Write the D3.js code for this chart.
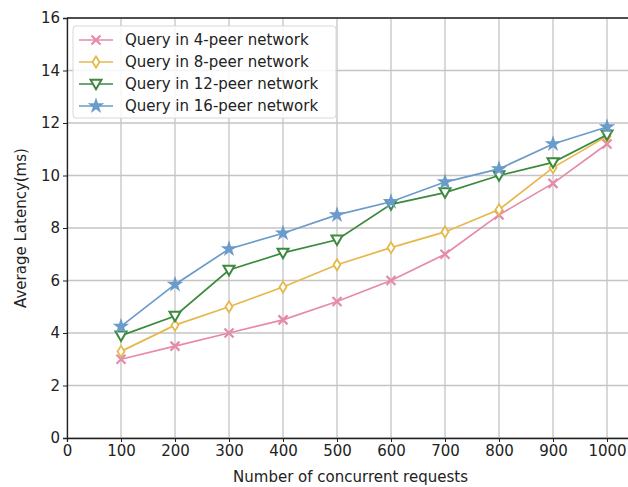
<!DOCTYPE html>
<html>
  <head>
    <meta charset="UTF-8" />
    <style>
      body { margin: 0; background: #fff; }
      svg text { font-family: "DejaVu Sans", sans-serif; fill: #222; }
    </style>
  </head>
  <body>
    <svg></svg>
    <script src="https://d3js.org/d3.v7.min.js"></script>
    <script>
      let width = 628,
        height = 487;

      // data
      const requests = [100, 200, 300, 400, 500, 600, 700, 800, 900, 1000];
      const peer4 = [3.0, 3.5, 4.0, 4.5, 5.2, 6.0, 7.0, 8.5, 9.7, 11.2];
      const peer8 = [3.3, 4.3, 5.0, 5.75, 6.6, 7.25, 7.85, 8.7, 10.3, 11.5];
      const peer12 = [3.9, 4.65, 6.4, 7.05, 7.55, 8.9, 9.35, 10.0, 10.5, 11.55];
      const peer16 = [4.25, 5.85, 7.2, 7.8, 8.5, 9.0, 9.75, 10.25, 11.2, 11.85];
      const seriesNames = [
        "Query in 4-peer network",
        "Query in 8-peer network",
        "Query in 12-peer network",
        "Query in 16-peer network",
      ];
      const xTicks = [0, 100, 200, 300, 400, 500, 600, 700, 800, 900, 1000];
      const yTicks = [0, 2, 4, 6, 8, 10, 12, 14, 16];

      const series = [
        { name: seriesNames[0], values: peer4, color: "#e68aa9", marker: "x" },
        { name: seriesNames[1], values: peer8, color: "#e6b84a", marker: "diamond" },
        { name: seriesNames[2], values: peer12, color: "#3b8a3e", marker: "tri" },
        { name: seriesNames[3], values: peer16, color: "#6a9bcb", marker: "star" },
      ];

      const fontSize = "15px";

      let svg = d3.select("svg").attr("width", width).attr("height", height);

      let x = d3.scaleLinear().domain([0, 1050]).range([67, 634]);
      let y = d3.scaleLinear().domain([0, 16]).range([438, 18]);

      // grid
      svg.append("g")
        .selectAll("line")
        .data(xTicks)
        .join("line")
        .attr("x1", (d) => x(d)).attr("x2", (d) => x(d))
        .attr("y1", y(0)).attr("y2", y(16))
        .attr("stroke", "#c4c4c4").attr("stroke-width", 1.3);
      svg.append("g")
        .selectAll("line")
        .data(yTicks)
        .join("line")
        .attr("x1", x(0)).attr("x2", x(1050))
        .attr("y1", (d) => y(d)).attr("y2", (d) => y(d))
        .attr("stroke", "#c4c4c4").attr("stroke-width", 1.3);

      // axes
      let xAxis = svg.append("g")
        .attr("transform", "translate(0," + y(0) + ")")
        .call(d3.axisBottom(x).tickValues(xTicks).tickFormat(d3.format("d")).tickSize(4).tickPadding(3));
      let yAxis = svg.append("g")
        .attr("transform", "translate(" + x(0) + ",0)")
        .call(d3.axisLeft(y).tickValues(yTicks).tickSize(4).tickPadding(3));
      [xAxis, yAxis].forEach((a) => {
        a.select(".domain").attr("stroke", "#222").attr("stroke-width", 1.3);
        a.selectAll(".tick line").attr("stroke", "#222");
        a.selectAll("text").style("font-size", fontSize).attr("fill", "#222");
      });
      // top spine
      svg.append("line")
        .attr("x1", x(0)).attr("x2", x(1050))
        .attr("y1", y(16)).attr("y2", y(16))
        .attr("stroke", "#222").attr("stroke-width", 1.3);

      svg.append("text")
        .attr("x", (x(0) + x(1050)) / 2).attr("y", 482)
        .attr("text-anchor", "middle").style("font-size", fontSize)
        .text("Number of concurrent requests");
      svg.append("text")
        .attr("transform", "translate(26," + (y(0) + y(16)) / 2 + ") rotate(-90)")
        .attr("text-anchor", "middle").style("font-size", fontSize)
        .text("Average Latency(ms)");

      function drawMarker(g, type, color) {
        if (type == "x") {
          g.append("path").attr("d", "M-4.5,-4.5L4.5,4.5M-4.5,4.5L4.5,-4.5")
            .attr("stroke", color).attr("stroke-width", 2.2).attr("fill", "none");
        } else if (type == "diamond") {
          g.append("path").attr("d", "M0,-5.5L3.5,0L0,5.5L-3.5,0Z")
            .attr("stroke", color).attr("stroke-width", 1.8).attr("fill", "#fff");
        } else if (type == "tri") {
          g.append("path").attr("d", "M-5.5,-4.2L5.5,-4.2L0,5.3Z")
            .attr("stroke", color).attr("stroke-width", 2).attr("fill", "#fff");
        } else {
          g.append("path").attr("d", d3.symbol(d3.symbolStar, 85)())
            .attr("fill", color);
        }
      }

      let line = d3.line().x((d, i) => x(requests[i])).y((d) => y(d));

      series.forEach((s) => {
        svg.append("path")
          .datum(s.values)
          .attr("d", line)
          .attr("fill", "none")
          .attr("stroke", s.color)
          .attr("stroke-width", 1.7);
        svg.append("g")
          .selectAll("g")
          .data(s.values)
          .join("g")
          .attr("transform", (d, i) => "translate(" + x(requests[i]) + "," + y(d) + ")")
          .each(function () { drawMarker(d3.select(this), s.marker, s.color); });
      });

      // legend
      let legend = svg.append("g").attr("transform", "translate(73,26)");
      legend.append("rect")
        .attr("width", 263).attr("height", 92).attr("rx", 3)
        .attr("fill", "#fff").attr("fill-opacity", 0.85)
        .attr("stroke", "#d8d8d8");
      series.forEach((s, i) => {
        let row = legend.append("g").attr("transform", "translate(0," + (14 + i * 22) + ")");
        row.append("line").attr("x1", 6).attr("x2", 40)
          .attr("stroke", s.color).attr("stroke-width", 1.7);
        drawMarker(row.append("g").attr("transform", "translate(23,0)"), s.marker, s.color);
        row.append("text").attr("x", 52).attr("dy", "0.35em")
          .style("font-size", fontSize).text(s.name);
      });
    </script>
  </body>
</html>
